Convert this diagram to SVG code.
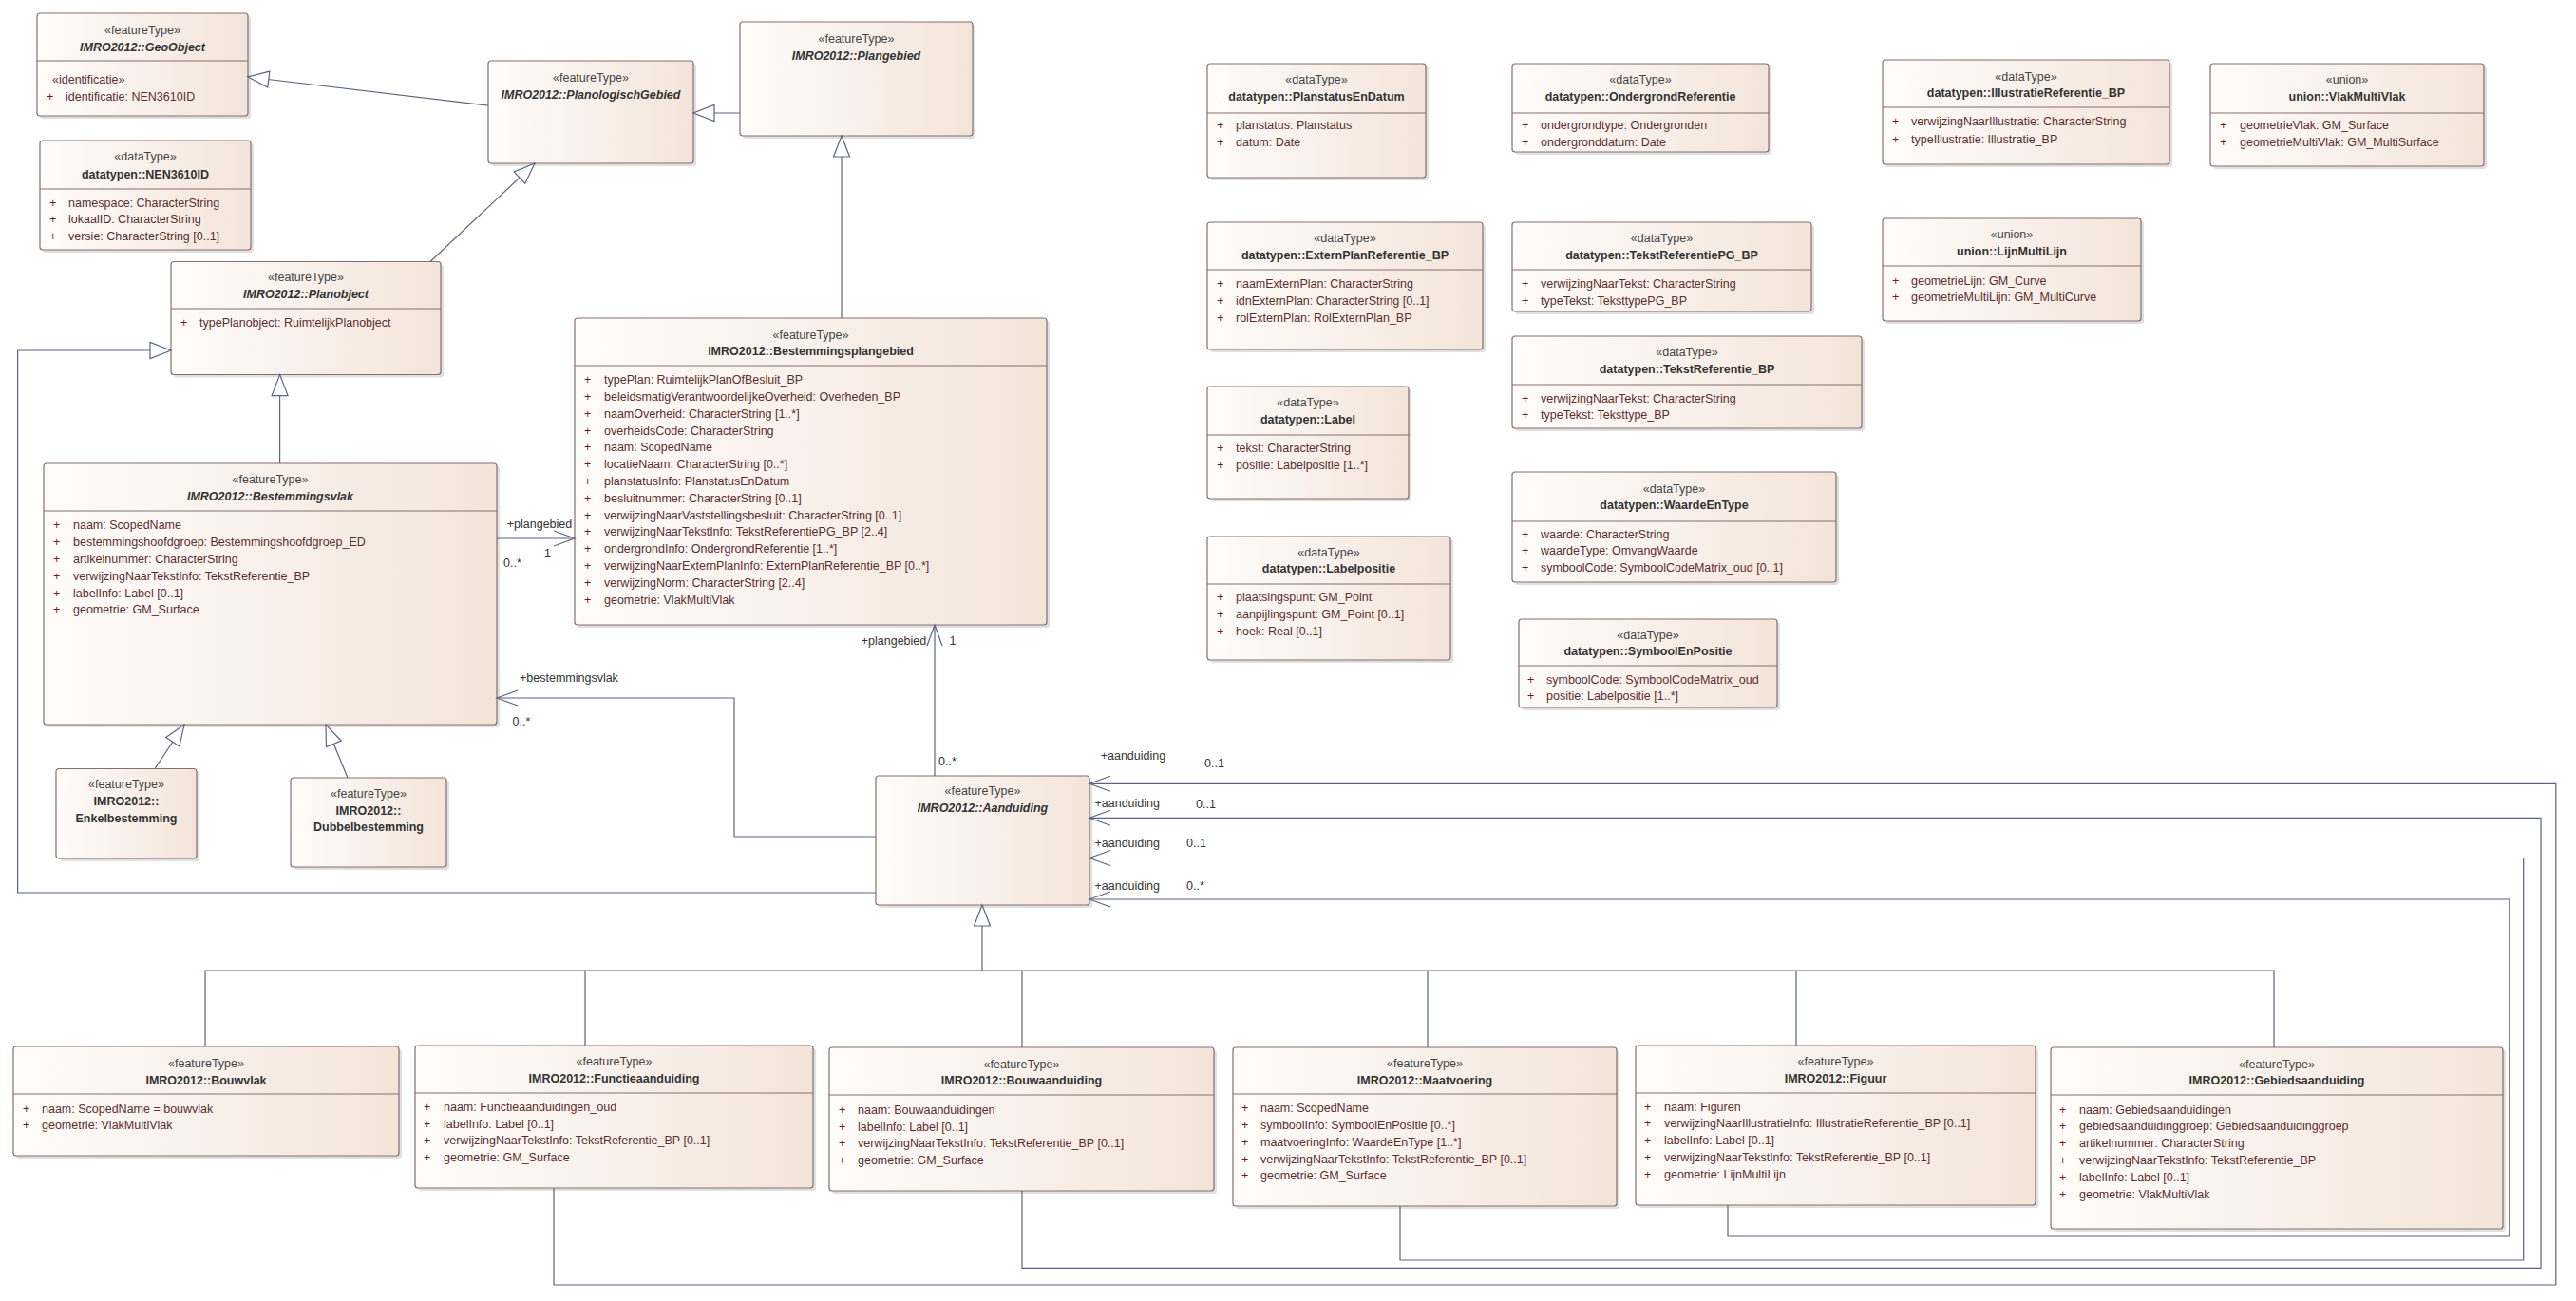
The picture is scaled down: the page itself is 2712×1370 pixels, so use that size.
<svg xmlns="http://www.w3.org/2000/svg" width="2712" height="1370" viewBox="0 0 2712 1370">
<defs>
<linearGradient id="g" x1="0" y1="0" x2="1" y2="0">
<stop offset="0" stop-color="#fefcfa"/>
<stop offset="1" stop-color="#f3e4d9"/>
</linearGradient>
<marker id="tri" markerUnits="userSpaceOnUse" markerWidth="26" markerHeight="20" viewBox="-24 -10 26 20" refX="0" refY="0" orient="auto">
<path d="M0,0 L-22,-8.5 L-22,8.5 Z" fill="#fff" stroke="#5b6583" stroke-width="1.2"/>
</marker>
<marker id="arr" markerUnits="userSpaceOnUse" markerWidth="26" markerHeight="20" viewBox="-24 -10 26 20" refX="0" refY="0" orient="auto">
<path d="M-22,-8 L0,0 L-22,8" fill="none" stroke="#5b6583" stroke-width="1.2"/>
</marker>
<style>
.sh{fill:#000;opacity:.12}
.box{fill:url(#g);stroke:#85706f;stroke-width:1.2}
.dv{stroke:#85706f;stroke-width:1}
text{font-family:"Liberation Sans",Arial,sans-serif;font-size:12.5px}
.st{fill:#444;text-anchor:middle}
.nm{font-weight:bold;fill:#333}
.it{font-style:italic}
.at{fill:#5a2e2e}
.pl{fill:#6b1d1d}
.c{fill:none;stroke:#5b6583;stroke-width:1.2}
.gen{marker-end:url(#tri)}
.asc{marker-end:url(#arr)}
.lb{fill:#333}
</style>
</defs>

<g id="GeoObject">
<rect class="sh" x="42" y="17" width="222" height="108" rx="3"/>
<rect class="box" x="39" y="14" width="222" height="108" rx="3"/>
<line class="dv" x1="39" y1="64" x2="261" y2="64"/>
<text class="st" x="150" y="35.5">«featureType»</text>
<text class="st nm it" x="150" y="53.5">IMRO2012::GeoObject</text>
<text class="at" x="55" y="87.5">«identificatie»</text>
<text class="at" y="106"><tspan class="pl" x="49">+</tspan><tspan x="69">identificatie: NEN3610ID</tspan></text>
</g>

<g id="NEN3610ID">
<rect class="sh" x="45" y="151" width="222" height="115" rx="3"/>
<rect class="box" x="42" y="148" width="222" height="115" rx="3"/>
<line class="dv" x1="42" y1="199" x2="264" y2="199"/>
<text class="st" x="153" y="168.5">«dataType»</text>
<text class="st nm" x="153" y="187.5">datatypen::NEN3610ID</text>
<text class="at" y="217.5"><tspan class="pl" x="52">+</tspan><tspan x="72">namespace: CharacterString</tspan></text>
<text class="at" y="235.3"><tspan class="pl" x="52">+</tspan><tspan x="72">lokaalID: CharacterString</tspan></text>
<text class="at" y="253"><tspan class="pl" x="52">+</tspan><tspan x="72">versie: CharacterString [0..1]</tspan></text>
</g>

<g id="PlanologischGebied">
<rect class="sh" x="517" y="67" width="216" height="108" rx="3"/>
<rect class="box" x="514" y="64" width="216" height="108" rx="3"/>
<text class="st" x="622" y="85.5">«featureType»</text>
<text class="st nm it" x="622" y="103.5">IMRO2012::PlanologischGebied</text>
</g>

<g id="Plangebied">
<rect class="sh" x="782" y="26" width="245" height="120" rx="3"/>
<rect class="box" x="779" y="23" width="245" height="120" rx="3"/>
<text class="st" x="901.5" y="44.5">«featureType»</text>
<text class="st nm it" x="901.5" y="62.5">IMRO2012::Plangebied</text>
</g>

<g id="Planobject">
<rect class="sh" x="183" y="278.5" width="284" height="119" rx="3"/>
<rect class="box" x="180" y="275.5" width="284" height="119" rx="3"/>
<line class="dv" x1="180" y1="325" x2="464" y2="325"/>
<text class="st" x="322" y="295.5">«featureType»</text>
<text class="st nm it" x="322" y="313.5">IMRO2012::Planobject</text>
<text class="at" y="343.5"><tspan class="pl" x="190">+</tspan><tspan x="210">typePlanobject: RuimtelijkPlanobject</tspan></text>
</g>

<g id="Bestemmingsvlak">
<rect class="sh" x="49" y="491" width="477" height="275" rx="3"/>
<rect class="box" x="46" y="488" width="477" height="275" rx="3"/>
<line class="dv" x1="46" y1="538" x2="523" y2="538"/>
<text class="st" x="284.5" y="508.5">«featureType»</text>
<text class="st nm it" x="284.5" y="527">IMRO2012::Bestemmingsvlak</text>
<text class="at" y="557.3"><tspan class="pl" x="56">+</tspan><tspan x="77">naam: ScopedName</tspan></text>
<text class="at" y="575.1"><tspan class="pl" x="56">+</tspan><tspan x="77">bestemmingshoofdgroep: Bestemmingshoofdgroep_ED</tspan></text>
<text class="at" y="592.9"><tspan class="pl" x="56">+</tspan><tspan x="77">artikelnummer: CharacterString</tspan></text>
<text class="at" y="610.7"><tspan class="pl" x="56">+</tspan><tspan x="77">verwijzingNaarTekstInfo: TekstReferentie_BP</tspan></text>
<text class="at" y="628.5"><tspan class="pl" x="56">+</tspan><tspan x="77">labelInfo: Label [0..1]</tspan></text>
<text class="at" y="646.3"><tspan class="pl" x="56">+</tspan><tspan x="77">geometrie: GM_Surface</tspan></text>
</g>

<g id="Enkelbestemming">
<rect class="sh" x="62" y="812.5" width="148" height="94.5" rx="3"/>
<rect class="box" x="59" y="809.5" width="148" height="94.5" rx="3"/>
<text class="st" x="133" y="830">«featureType»</text>
<text class="st nm" x="133" y="847.5">IMRO2012::</text>
<text class="st nm" x="133" y="865.5">Enkelbestemming</text>
</g>

<g id="Dubbelbestemming">
<rect class="sh" x="309" y="822" width="164" height="94" rx="3"/>
<rect class="box" x="306" y="819" width="164" height="94" rx="3"/>
<text class="st" x="388" y="839.5">«featureType»</text>
<text class="st nm" x="388" y="857.5">IMRO2012::</text>
<text class="st nm" x="388" y="875">Dubbelbestemming</text>
</g>

<g id="Bestemmingsplangebied">
<rect class="sh" x="608" y="338" width="497" height="323" rx="3"/>
<rect class="box" x="605" y="335" width="497" height="323" rx="3"/>
<line class="dv" x1="605" y1="385" x2="1102" y2="385"/>
<text class="st" x="853.5" y="356.5">«featureType»</text>
<text class="st nm" x="853.5" y="373.5">IMRO2012::Bestemmingsplangebied</text>
<text class="at" y="404.2"><tspan class="pl" x="615">+</tspan><tspan x="636">typePlan: RuimtelijkPlanOfBesluit_BP</tspan></text>
<text class="at" y="422"><tspan class="pl" x="615">+</tspan><tspan x="636">beleidsmatigVerantwoordelijkeOverheid: Overheden_BP</tspan></text>
<text class="at" y="439.8"><tspan class="pl" x="615">+</tspan><tspan x="636">naamOverheid: CharacterString [1..*]</tspan></text>
<text class="at" y="457.6"><tspan class="pl" x="615">+</tspan><tspan x="636">overheidsCode: CharacterString</tspan></text>
<text class="at" y="475.4"><tspan class="pl" x="615">+</tspan><tspan x="636">naam: ScopedName</tspan></text>
<text class="at" y="493.2"><tspan class="pl" x="615">+</tspan><tspan x="636">locatieNaam: CharacterString [0..*]</tspan></text>
<text class="at" y="511"><tspan class="pl" x="615">+</tspan><tspan x="636">planstatusInfo: PlanstatusEnDatum</tspan></text>
<text class="at" y="528.8"><tspan class="pl" x="615">+</tspan><tspan x="636">besluitnummer: CharacterString [0..1]</tspan></text>
<text class="at" y="546.6"><tspan class="pl" x="615">+</tspan><tspan x="636">verwijzingNaarVaststellingsbesluit: CharacterString [0..1]</tspan></text>
<text class="at" y="564.4"><tspan class="pl" x="615">+</tspan><tspan x="636">verwijzingNaarTekstInfo: TekstReferentiePG_BP [2..4]</tspan></text>
<text class="at" y="582.2"><tspan class="pl" x="615">+</tspan><tspan x="636">ondergrondInfo: OndergrondReferentie [1..*]</tspan></text>
<text class="at" y="600"><tspan class="pl" x="615">+</tspan><tspan x="636">verwijzingNaarExternPlanInfo: ExternPlanReferentie_BP [0..*]</tspan></text>
<text class="at" y="617.8"><tspan class="pl" x="615">+</tspan><tspan x="636">verwijzingNorm: CharacterString [2..4]</tspan></text>
<text class="at" y="635.6"><tspan class="pl" x="615">+</tspan><tspan x="636">geometrie: VlakMultiVlak</tspan></text>
</g>

<g id="Aanduiding">
<rect class="sh" x="925" y="820" width="225" height="136" rx="3"/>
<rect class="box" x="922" y="817" width="225" height="136" rx="3"/>
<text class="st" x="1034.5" y="837">«featureType»</text>
<text class="st nm it" x="1034.5" y="855">IMRO2012::Aanduiding</text>
</g>

<g id="Bouwvlak">
<rect class="sh" x="17" y="1105" width="406" height="115" rx="3"/>
<rect class="box" x="14" y="1102" width="406" height="115" rx="3"/>
<line class="dv" x1="14" y1="1152" x2="420" y2="1152"/>
<text class="st" x="217" y="1124">«featureType»</text>
<text class="st nm" x="217" y="1141.5">IMRO2012::Bouwvlak</text>
<text class="at" y="1171.5"><tspan class="pl" x="24">+</tspan><tspan x="44">naam: ScopedName = bouwvlak</tspan></text>
<text class="at" y="1189"><tspan class="pl" x="24">+</tspan><tspan x="44">geometrie: VlakMultiVlak</tspan></text>
</g>

<g id="Functieaanduiding">
<rect class="sh" x="440" y="1104" width="419" height="150" rx="3"/>
<rect class="box" x="437" y="1101" width="419" height="150" rx="3"/>
<line class="dv" x1="437" y1="1151" x2="856" y2="1151"/>
<text class="st" x="646.5" y="1121.5">«featureType»</text>
<text class="st nm" x="646.5" y="1139.5">IMRO2012::Functieaanduiding</text>
<text class="at" y="1170"><tspan class="pl" x="446">+</tspan><tspan x="467">naam: Functieaanduidingen_oud</tspan></text>
<text class="at" y="1187.5"><tspan class="pl" x="446">+</tspan><tspan x="467">labelInfo: Label [0..1]</tspan></text>
<text class="at" y="1205"><tspan class="pl" x="446">+</tspan><tspan x="467">verwijzingNaarTekstInfo: TekstReferentie_BP [0..1]</tspan></text>
<text class="at" y="1222.8"><tspan class="pl" x="446">+</tspan><tspan x="467">geometrie: GM_Surface</tspan></text>
</g>

<g id="Bouwaanduiding">
<rect class="sh" x="876" y="1106" width="405" height="151" rx="3"/>
<rect class="box" x="873" y="1103" width="405" height="151" rx="3"/>
<line class="dv" x1="873" y1="1153" x2="1278" y2="1153"/>
<text class="st" x="1075.5" y="1125">«featureType»</text>
<text class="st nm" x="1075.5" y="1142">IMRO2012::Bouwaanduiding</text>
<text class="at" y="1172.8"><tspan class="pl" x="883">+</tspan><tspan x="903">naam: Bouwaanduidingen</tspan></text>
<text class="at" y="1190.6"><tspan class="pl" x="883">+</tspan><tspan x="903">labelInfo: Label [0..1]</tspan></text>
<text class="at" y="1208.4"><tspan class="pl" x="883">+</tspan><tspan x="903">verwijzingNaarTekstInfo: TekstReferentie_BP [0..1]</tspan></text>
<text class="at" y="1226.2"><tspan class="pl" x="883">+</tspan><tspan x="903">geometrie: GM_Surface</tspan></text>
</g>

<g id="Maatvoering">
<rect class="sh" x="1301" y="1106" width="404" height="167" rx="3"/>
<rect class="box" x="1298" y="1103" width="404" height="167" rx="3"/>
<line class="dv" x1="1298" y1="1152" x2="1702" y2="1152"/>
<text class="st" x="1500" y="1124">«featureType»</text>
<text class="st nm" x="1500" y="1141.5">IMRO2012::Maatvoering</text>
<text class="at" y="1171.2"><tspan class="pl" x="1307">+</tspan><tspan x="1327">naam: ScopedName</tspan></text>
<text class="at" y="1189"><tspan class="pl" x="1307">+</tspan><tspan x="1327">symboolInfo: SymboolEnPositie [0..*]</tspan></text>
<text class="at" y="1206.8"><tspan class="pl" x="1307">+</tspan><tspan x="1327">maatvoeringInfo: WaardeEnType [1..*]</tspan></text>
<text class="at" y="1224.6"><tspan class="pl" x="1307">+</tspan><tspan x="1327">verwijzingNaarTekstInfo: TekstReferentie_BP [0..1]</tspan></text>
<text class="at" y="1242.4"><tspan class="pl" x="1307">+</tspan><tspan x="1327">geometrie: GM_Surface</tspan></text>
</g>

<g id="Figuur">
<rect class="sh" x="1725" y="1104" width="421" height="168" rx="3"/>
<rect class="box" x="1722" y="1101" width="421" height="168" rx="3"/>
<line class="dv" x1="1722" y1="1151" x2="2143" y2="1151"/>
<text class="st" x="1932.5" y="1121.5">«featureType»</text>
<text class="st nm" x="1932.5" y="1139.5">IMRO2012::Figuur</text>
<text class="at" y="1169.5"><tspan class="pl" x="1731">+</tspan><tspan x="1752">naam: Figuren</tspan></text>
<text class="at" y="1187.3"><tspan class="pl" x="1731">+</tspan><tspan x="1752">verwijzingNaarIllustratieInfo: IllustratieReferentie_BP [0..1]</tspan></text>
<text class="at" y="1205.1"><tspan class="pl" x="1731">+</tspan><tspan x="1752">labelInfo: Label [0..1]</tspan></text>
<text class="at" y="1222.9"><tspan class="pl" x="1731">+</tspan><tspan x="1752">verwijzingNaarTekstInfo: TekstReferentie_BP [0..1]</tspan></text>
<text class="at" y="1240.7"><tspan class="pl" x="1731">+</tspan><tspan x="1752">geometrie: LijnMultiLijn</tspan></text>
</g>

<g id="Gebiedsaanduiding">
<rect class="sh" x="2162" y="1106" width="476" height="191" rx="3"/>
<rect class="box" x="2159" y="1103" width="476" height="191" rx="3"/>
<line class="dv" x1="2159" y1="1153" x2="2635" y2="1153"/>
<text class="st" x="2397" y="1124.5">«featureType»</text>
<text class="st nm" x="2397" y="1142">IMRO2012::Gebiedsaanduiding</text>
<text class="at" y="1172.5"><tspan class="pl" x="2168">+</tspan><tspan x="2189">naam: Gebiedsaanduidingen</tspan></text>
<text class="at" y="1190.3"><tspan class="pl" x="2168">+</tspan><tspan x="2189">gebiedsaanduidinggroep: Gebiedsaanduidinggroep</tspan></text>
<text class="at" y="1208.1"><tspan class="pl" x="2168">+</tspan><tspan x="2189">artikelnummer: CharacterString</tspan></text>
<text class="at" y="1225.9"><tspan class="pl" x="2168">+</tspan><tspan x="2189">verwijzingNaarTekstInfo: TekstReferentie_BP</tspan></text>
<text class="at" y="1243.7"><tspan class="pl" x="2168">+</tspan><tspan x="2189">labelInfo: Label [0..1]</tspan></text>
<text class="at" y="1261.5"><tspan class="pl" x="2168">+</tspan><tspan x="2189">geometrie: VlakMultiVlak</tspan></text>
</g>

<g id="PlanstatusEnDatum">
<rect class="sh" x="1274" y="70" width="230" height="120" rx="3"/>
<rect class="box" x="1271" y="67" width="230" height="120" rx="3"/>
<line class="dv" x1="1271" y1="119" x2="1501" y2="119"/>
<text class="st" x="1386" y="88">«dataType»</text>
<text class="st nm" x="1386" y="106">datatypen::PlanstatusEnDatum</text>
<text class="at" y="136"><tspan class="pl" x="1281">+</tspan><tspan x="1301">planstatus: Planstatus</tspan></text>
<text class="at" y="154"><tspan class="pl" x="1281">+</tspan><tspan x="1301">datum: Date</tspan></text>
</g>

<g id="OndergrondReferentie">
<rect class="sh" x="1595" y="70" width="270" height="93" rx="3"/>
<rect class="box" x="1592" y="67" width="270" height="93" rx="3"/>
<line class="dv" x1="1592" y1="119" x2="1862" y2="119"/>
<text class="st" x="1727" y="88">«dataType»</text>
<text class="st nm" x="1727" y="106">datatypen::OndergrondReferentie</text>
<text class="at" y="136"><tspan class="pl" x="1602">+</tspan><tspan x="1622">ondergrondtype: Ondergronden</tspan></text>
<text class="at" y="154"><tspan class="pl" x="1602">+</tspan><tspan x="1622">ondergronddatum: Date</tspan></text>
</g>

<g id="ExternPlanReferentie_BP">
<rect class="sh" x="1274" y="237" width="290" height="134" rx="3"/>
<rect class="box" x="1271" y="234" width="290" height="134" rx="3"/>
<line class="dv" x1="1271" y1="284" x2="1561" y2="284"/>
<text class="st" x="1416" y="255">«dataType»</text>
<text class="st nm" x="1416" y="273">datatypen::ExternPlanReferentie_BP</text>
<text class="at" y="303"><tspan class="pl" x="1281">+</tspan><tspan x="1301">naamExternPlan: CharacterString</tspan></text>
<text class="at" y="321"><tspan class="pl" x="1281">+</tspan><tspan x="1301">idnExternPlan: CharacterString [0..1]</tspan></text>
<text class="at" y="338.5"><tspan class="pl" x="1281">+</tspan><tspan x="1301">rolExternPlan: RolExternPlan_BP</tspan></text>
</g>

<g id="TekstReferentiePG_BP">
<rect class="sh" x="1595" y="237" width="315" height="94" rx="3"/>
<rect class="box" x="1592" y="234" width="315" height="94" rx="3"/>
<line class="dv" x1="1592" y1="284" x2="1907" y2="284"/>
<text class="st" x="1749.5" y="255">«dataType»</text>
<text class="st nm" x="1749.5" y="273">datatypen::TekstReferentiePG_BP</text>
<text class="at" y="303"><tspan class="pl" x="1602">+</tspan><tspan x="1622">verwijzingNaarTekst: CharacterString</tspan></text>
<text class="at" y="321"><tspan class="pl" x="1602">+</tspan><tspan x="1622">typeTekst: TeksttypePG_BP</tspan></text>
</g>

<g id="TekstReferentie_BP">
<rect class="sh" x="1595" y="357" width="368" height="97" rx="3"/>
<rect class="box" x="1592" y="354" width="368" height="97" rx="3"/>
<line class="dv" x1="1592" y1="405" x2="1960" y2="405"/>
<text class="st" x="1776" y="375">«dataType»</text>
<text class="st nm" x="1776" y="393">datatypen::TekstReferentie_BP</text>
<text class="at" y="423.5"><tspan class="pl" x="1602">+</tspan><tspan x="1622">verwijzingNaarTekst: CharacterString</tspan></text>
<text class="at" y="441"><tspan class="pl" x="1602">+</tspan><tspan x="1622">typeTekst: Teksttype_BP</tspan></text>
</g>

<g id="Label">
<rect class="sh" x="1274" y="410" width="212" height="118" rx="3"/>
<rect class="box" x="1271" y="407" width="212" height="118" rx="3"/>
<line class="dv" x1="1271" y1="458" x2="1483" y2="458"/>
<text class="st" x="1377" y="428">«dataType»</text>
<text class="st nm" x="1377" y="446">datatypen::Label</text>
<text class="at" y="476"><tspan class="pl" x="1281">+</tspan><tspan x="1301">tekst: CharacterString</tspan></text>
<text class="at" y="494"><tspan class="pl" x="1281">+</tspan><tspan x="1301">positie: Labelpositie [1..*]</tspan></text>
</g>

<g id="WaardeEnType">
<rect class="sh" x="1595" y="500" width="341" height="116" rx="3"/>
<rect class="box" x="1592" y="497" width="341" height="116" rx="3"/>
<line class="dv" x1="1592" y1="549" x2="1933" y2="549"/>
<text class="st" x="1762.5" y="519">«dataType»</text>
<text class="st nm" x="1762.5" y="536">datatypen::WaardeEnType</text>
<text class="at" y="566.5"><tspan class="pl" x="1602">+</tspan><tspan x="1622">waarde: CharacterString</tspan></text>
<text class="at" y="584.2"><tspan class="pl" x="1602">+</tspan><tspan x="1622">waardeType: OmvangWaarde</tspan></text>
<text class="at" y="602"><tspan class="pl" x="1602">+</tspan><tspan x="1622">symboolCode: SymboolCodeMatrix_oud [0..1]</tspan></text>
</g>

<g id="Labelpositie">
<rect class="sh" x="1274" y="568" width="256" height="130" rx="3"/>
<rect class="box" x="1271" y="565" width="256" height="130" rx="3"/>
<line class="dv" x1="1271" y1="615" x2="1527" y2="615"/>
<text class="st" x="1399" y="586">«dataType»</text>
<text class="st nm" x="1399" y="603">datatypen::Labelpositie</text>
<text class="at" y="633"><tspan class="pl" x="1281">+</tspan><tspan x="1301">plaatsingspunt: GM_Point</tspan></text>
<text class="at" y="651"><tspan class="pl" x="1281">+</tspan><tspan x="1301">aanpijlingspunt: GM_Point [0..1]</tspan></text>
<text class="at" y="669"><tspan class="pl" x="1281">+</tspan><tspan x="1301">hoek: Real [0..1]</tspan></text>
</g>

<g id="SymboolEnPositie">
<rect class="sh" x="1602" y="655" width="272" height="93" rx="3"/>
<rect class="box" x="1599" y="652" width="272" height="93" rx="3"/>
<line class="dv" x1="1599" y1="701" x2="1871" y2="701"/>
<text class="st" x="1735" y="673">«dataType»</text>
<text class="st nm" x="1735" y="690">datatypen::SymboolEnPositie</text>
<text class="at" y="720"><tspan class="pl" x="1608">+</tspan><tspan x="1628">symboolCode: SymboolCodeMatrix_oud</tspan></text>
<text class="at" y="737"><tspan class="pl" x="1608">+</tspan><tspan x="1628">positie: Labelpositie [1..*]</tspan></text>
</g>

<g id="IllustratieReferentie_BP">
<rect class="sh" x="1985" y="66" width="302" height="110" rx="3"/>
<rect class="box" x="1982" y="63" width="302" height="110" rx="3"/>
<line class="dv" x1="1982" y1="113" x2="2284" y2="113"/>
<text class="st" x="2133" y="84.5">«dataType»</text>
<text class="st nm" x="2133" y="102">datatypen::IllustratieReferentie_BP</text>
<text class="at" y="132"><tspan class="pl" x="1992">+</tspan><tspan x="2012">verwijzingNaarIllustratie: CharacterString</tspan></text>
<text class="at" y="150.5"><tspan class="pl" x="1992">+</tspan><tspan x="2012">typeIllustratie: Illustratie_BP</tspan></text>
</g>

<g id="VlakMultiVlak">
<rect class="sh" x="2330" y="70" width="288" height="108" rx="3"/>
<rect class="box" x="2327" y="67" width="288" height="108" rx="3"/>
<line class="dv" x1="2327" y1="119" x2="2615" y2="119"/>
<text class="st" x="2471" y="88">«union»</text>
<text class="st nm" x="2471" y="106">union::VlakMultiVlak</text>
<text class="at" y="136"><tspan class="pl" x="2337">+</tspan><tspan x="2358">geometrieVlak: GM_Surface</tspan></text>
<text class="at" y="154"><tspan class="pl" x="2337">+</tspan><tspan x="2358">geometrieMultiVlak: GM_MultiSurface</tspan></text>
</g>

<g id="LijnMultiLijn">
<rect class="sh" x="1985" y="233" width="272" height="108" rx="3"/>
<rect class="box" x="1982" y="230" width="272" height="108" rx="3"/>
<line class="dv" x1="1982" y1="280" x2="2254" y2="280"/>
<text class="st" x="2118" y="251">«union»</text>
<text class="st nm" x="2118" y="269">union::LijnMultiLijn</text>
<text class="at" y="299.5"><tspan class="pl" x="1992">+</tspan><tspan x="2012">geometrieLijn: GM_Curve</tspan></text>
<text class="at" y="316.5"><tspan class="pl" x="1992">+</tspan><tspan x="2012">geometrieMultiLijn: GM_MultiCurve</tspan></text>
</g>

<g id="connectors">
<path class="c gen" d="M514,111 L261,81"/>
<path class="c gen" d="M779,119 L730,119"/>
<path class="c gen" d="M453,275.5 L563,172"/>
<path class="c gen" d="M886,335 L886,143"/>
<path class="c gen" d="M294.6,488 L294.6,394.6"/>
<path class="c gen" d="M163,809.5 L194,763"/>
<path class="c gen" d="M366,819 L343,763"/>
<path class="c gen" d="M922,940 L18.6,940 L18.6,369 L180,369"/>
<path class="c" d="M216,1102 V1022 H2394 V1103 M616,1101 V1022 M1076,1103 V1022 M1503,1103 V1022 M1891,1101 V1022"/>
<path class="c gen" d="M1034,1022 V953"/>
<path class="c asc" d="M523,567 L605,567"/>
<path class="c asc" d="M922,881 L773,881 L773,735 L523,735"/>
<path class="c asc" d="M984,817 L984,658"/>
<path class="c asc" d="M583,1251 V1353 H2690.8 V825.3 H1147"/>
<path class="c asc" d="M1076,1254 V1335.3 H2675 V861.3 H1147"/>
<path class="c asc" d="M1474,1270 V1327 H2656.7 V903.5 H1147"/>
<path class="c asc" d="M1819,1269 V1302 H2641.8 V947 H1147"/>
<text class="lb" x="568" y="555.5" text-anchor="middle">+plangebied</text>
<text class="lb" x="576.5" y="586.5" text-anchor="middle">1</text>
<text class="lb" x="539.5" y="596.5" text-anchor="middle">0..*</text>
<text class="lb" x="547" y="717.5">+bestemmingsvlak</text>
<text class="lb" x="549" y="764" text-anchor="middle">0..*</text>
<text class="lb" x="941" y="678.5" text-anchor="middle">+plangebied</text>
<text class="lb" x="1003" y="678.5" text-anchor="middle">1</text>
<text class="lb" x="988" y="806">0..*</text>
<text class="lb" x="1158.7" y="799.5">+aanduiding</text>
<text class="lb" x="1268" y="808">0..1</text>
<text class="lb" x="1152.5" y="849.5">+aanduiding</text>
<text class="lb" x="1259" y="851">0..1</text>
<text class="lb" x="1152.5" y="892">+aanduiding</text>
<text class="lb" x="1249" y="892">0..1</text>
<text class="lb" x="1152.5" y="936.5">+aanduiding</text>
<text class="lb" x="1249" y="936.5">0..*</text>
</g>
</svg>
